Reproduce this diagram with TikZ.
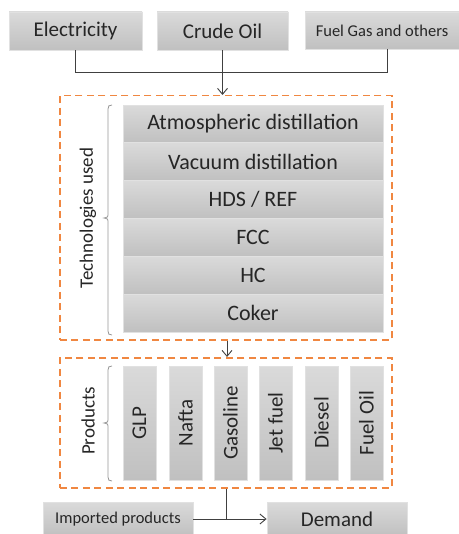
\documentclass[tikz,border=0pt]{standalone}
\usepackage{fontspec}
\setmainfont{Carlito}
\usetikzlibrary{arrows.meta}
\definecolor{boxtop}{RGB}{218,218,218}
\definecolor{boxbot}{RGB}{192,192,192}
\definecolor{boxline}{RGB}{225,225,225}
\definecolor{orangedash}{RGB}{240,135,65}
\definecolor{conn}{RGB}{64,64,64}
\definecolor{brc}{RGB}{150,150,150}
\tikzset{
  gbox/.style={draw=boxline, line width=0.8pt, top color=boxtop, bottom color=boxbot, inner sep=0pt, text=black!85},
  pbox/.style={gbox, rotate=90, minimum width=114pt, minimum height=33pt, font=\fontsize{21}{21}\selectfont},
  trow/.style={gbox, minimum width=260pt, minimum height=37.8pt, font=\fontsize{22}{22}\selectfont},
  dbox/.style={line width=1.5pt, dash pattern=on 7pt off 4.5pt},
  conline/.style={draw=conn, line width=0.9pt},
  tip/.style={-{Straight Barb[length=6pt,width=10pt,line width=0.9pt]}},
  brk/.style={draw=brc, line width=0.8pt},
  sidelbl/.style={rotate=90, font=\fontsize{19}{19}\selectfont, text=black!85}
}
\begin{document}
\begin{tikzpicture}[x=1pt,y=-1pt]
\useasboundingbox (0,0) rectangle (458,534);
% top inputs
\node[gbox, minimum width=133pt, minimum height=38pt, font=\fontsize{21}{21}\selectfont] (elec) at (75.5,31) {Electricity};
\node[gbox, minimum width=131pt, minimum height=38pt, font=\fontsize{21}{21}\selectfont] (crude) at (222.5,31) {Crude Oil};
\node[gbox, minimum width=154pt, minimum height=37pt, font=\fontsize{16.5}{16.5}\selectfont] (fuel) at (382,30.5) {Fuel Gas and others};
\coordinate (fj) at (387,72);
\coordinate (ej) at (75.5,72);
% technologies
\node[draw=orangedash, dbox, minimum width=332pt, minimum height=244pt, anchor=north west] (tech) at (59,95) {};
\foreach \t [count=\i] in {Atmospheric distillation, Vacuum distillation, HDS / REF, FCC, HC, Coker}{
  \node[trow] (r\i) at (253, {105+37.83*(\i-0.5)}) {\t};
}
\node[sidelbl] (techlbl) at (88,218) {Technologies used};
\draw[brk] (112,105) .. controls (109,105) and (108,106) .. (108,109) -- (108,215) .. controls (108,217) .. (104,218) .. controls (108,219) .. (108,221) -- (108,331) .. controls (108,334) and (109,335) .. (112,335);
% products
\node[draw=orangedash, dbox, minimum width=332pt, minimum height=130pt, anchor=north west] (prod) at (59,357) {};
\node[pbox] (p1) at (139.5,423) {GLP};
\node[pbox] (p2) at (185.5,423) {Nafta};
\node[pbox] (p3) at (230.5,423) {Gasoline};
\node[pbox] (p4) at (275.5,423) {Jet fuel};
\node[pbox] (p5) at (321.5,423) {Diesel};
\node[pbox] (p6) at (366.5,423) {Fuel Oil};
\node[sidelbl] (prodlbl) at (88,421) {Products};
\draw[brk] (112,366) .. controls (109,366) and (108,367) .. (108,370) -- (108,420) .. controls (108,422) .. (104,423) .. controls (108,424) .. (108,426) -- (108,477) .. controls (108,480) and (109,481) .. (112,481);
% bottom
\node[gbox, minimum width=150pt, minimum height=34pt, font=\fontsize{16.5}{16.5}\selectfont] (imp) at (118,519) {Imported products};
\node[gbox, minimum width=140pt, minimum height=34pt, font=\fontsize{21}{21}\selectfont] (dem) at (337,519) {Demand};
\coordinate (bj) at (226,519);
% connectors
\draw[conline] (elec.south) -- (ej) -- (fj) -- (fuel.south -| fj);
\draw[conline, tip] (crude.south) -- (crude.south |- tech.north);
\draw[conline, tip] (tech.south -| 227,0) -- (prod.north -| 227,0);
\draw[conline] (prod.south -| bj) -- (bj);
\draw[conline, tip] (imp.east) -- (dem.west);
\end{tikzpicture}
\end{document}
